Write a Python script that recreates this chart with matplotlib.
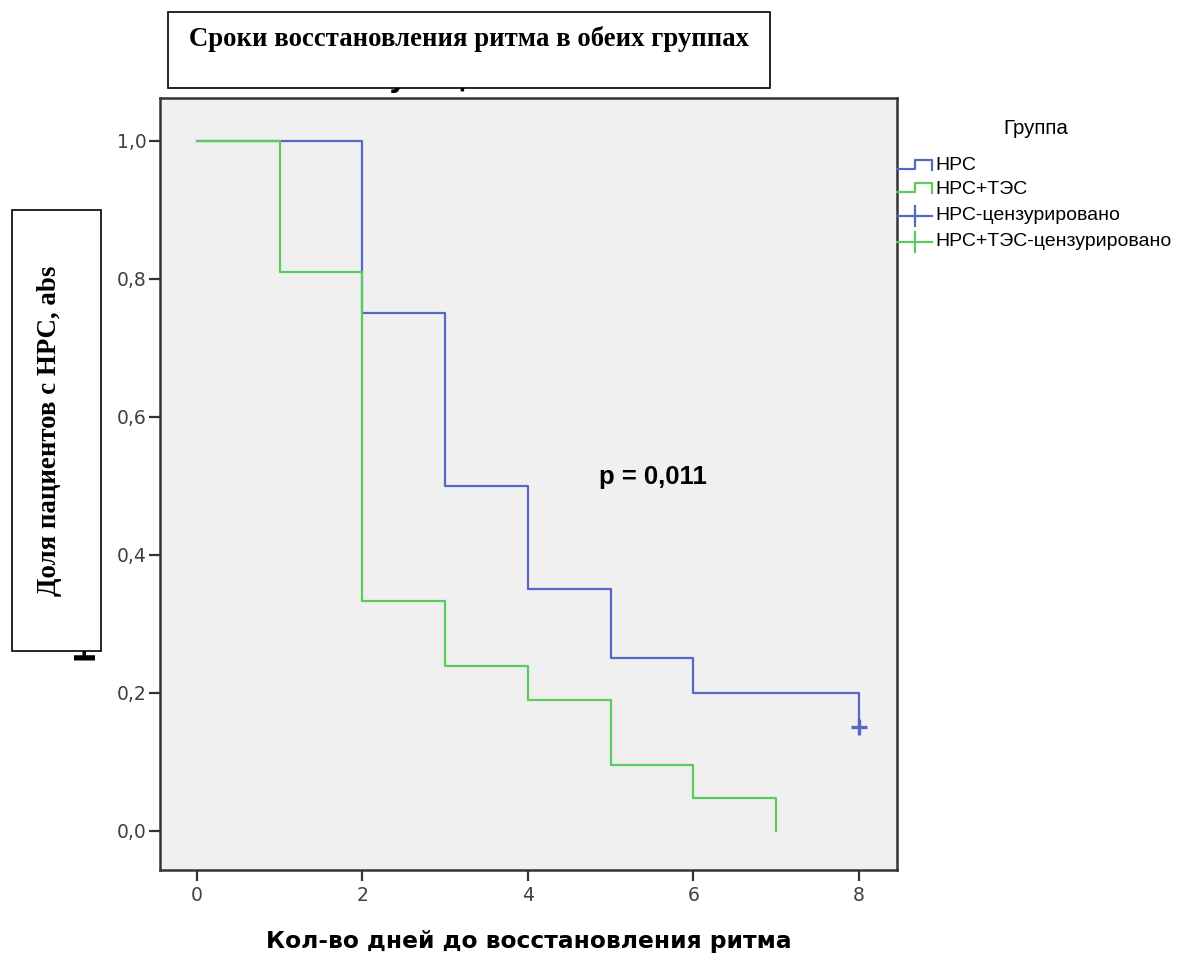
import matplotlib
matplotlib.use('Agg')
import matplotlib.pyplot as plt
from matplotlib.lines import Line2D
from matplotlib.patches import Rectangle
from matplotlib.ticker import FuncFormatter

# step data (Kaplan-Meier curves)
days_nrs = [0, 2, 3, 4, 5, 6, 8]
surv_nrs = [1.0, 0.75, 0.50, 0.35, 0.25, 0.20, 0.15]
cens_nrs_x = [8]
cens_nrs_y = [0.15]

days_tes = [0, 1, 2, 3, 4, 5, 6, 7]
surv_tes = [1.0, 0.81, 0.333, 0.238, 0.19, 0.095, 0.048, 0.0]

x_ticks = [0, 2, 4, 6, 8]
y_ticks = [0.0, 0.2, 0.4, 0.6, 0.8, 1.0]

legend_labels = ['НРС', 'НРС+ТЭС', 'НРС-цензурировано', 'НРС+ТЭС-цензурировано']

blue = '#5468c4'
green = '#5ccb5c'

W, H = 1177, 956

fig = plt.figure(figsize=(11.77, 9.56), dpi=100)
ax = fig.add_axes([160 / W, 1 - 870 / H, (897 - 160) / W, (870 - 98) / H])
ax.set_facecolor('#f0f0f0')

ax.step(days_nrs, surv_nrs, where='post', color=blue, lw=1.6)
ax.step(days_tes, surv_tes, where='post', color=green, lw=1.6)
ax.plot(cens_nrs_x, cens_nrs_y, marker='+', ms=11, mew=2.4, color=blue, ls='none')

ax.set_xlim(-0.447, 8.46)
ax.set_ylim(-0.057, 1.062)
ax.set_xticks(x_ticks)
ax.set_yticks(y_ticks)
ax.yaxis.set_major_formatter(FuncFormatter(lambda v, p: ('%.1f' % v).replace('.', ',')))
ax.tick_params(direction='out', length=8, width=1.6, color='#333333',
               labelsize=13.5, labelcolor='#404040')
ax.tick_params(axis='y', pad=1.5)
ax.tick_params(axis='x', pad=3.5)
for s in ax.spines.values():
    s.set_color('#333333')
    s.set_linewidth(1.8)

ax.set_xlabel('Кол-во дней до восстановления ритма', fontsize=16.8,
              fontweight='bold', family='DejaVu Sans', labelpad=18)

ax.text(5.51, 0.512, 'p = 0,011', fontsize=18.5, fontweight='bold',
        family='Liberation Sans', ha='center', va='center')

# hidden original title and y label, covered by boxes
fig.text(0.449, 1 - 87 / H, 'Функции выживания', fontsize=20, fontweight='bold',
         family='DejaVu Sans', ha='center', va='baseline', zorder=1)
fig.text(88 / W, 1 - 662 / H, 'Накопленная доля', fontsize=20, fontweight='bold',
         family='DejaVu Sans', rotation=90, ha='center', va='bottom', zorder=1)

# title box
fig.patches.append(Rectangle((168 / W, 1 - 88 / H), (770 - 168) / W, 76 / H,
                             transform=fig.transFigure, facecolor='white',
                             edgecolor='black', lw=1.2, zorder=5))
fig.text((168 + 770) / 2 / W, 1 - 39 / H, 'Сроки восстановления ритма в обеих группах',
         fontsize=19.3, fontweight='bold', family='Liberation Serif',
         ha='center', va='center', zorder=6)

# y label box
fig.patches.append(Rectangle((12 / W, 1 - 651 / H), 89 / W, 441 / H,
                             transform=fig.transFigure, facecolor='white',
                             edgecolor='black', lw=1.2, zorder=5))
fig.text(49 / W, 1 - 431 / H, 'Доля пациентов с НРС, abs',
         fontsize=19.4, fontweight='bold', family='Liberation Serif',
         rotation=90, ha='center', va='center', zorder=6)

# legend drawn by hand (SPSS style)
colors = [blue, green, blue, green]
censored = [False, False, True, True]
fig.text(1036 / W, 1 - 128 / H, 'Группа', fontsize=14.8, family='Liberation Sans',
         ha='center', va='center')
ys = [166, 189, 216, 242]
x0 = 897 / W
x1 = 932 / W
xm = 915 / W
for c, cens, lab, yy in zip(colors, censored, legend_labels, ys):
    yf = 1 - yy / H
    if cens:
        fig.lines.append(Line2D([x0, x1], [yf, yf], color=c, lw=1.6,
                                transform=fig.transFigure))
        fig.lines.append(Line2D([xm, xm], [yf - 10 / H, yf + 10 / H],
                                color=c, lw=1.6, transform=fig.transFigure))
    else:
        xs = [x0, xm, xm, x1, x1]
        yv = [yf - 3 / H, yf - 3 / H, yf + 6 / H, yf + 6 / H, yf - 4 / H]
        fig.lines.append(Line2D(xs, yv, color=c, lw=1.6,
                                transform=fig.transFigure))
    fig.text(935 / W, yf, lab, fontsize=14, family='Liberation Sans',
             ha='left', va='center')

fig.savefig('out.png', dpi=100)
